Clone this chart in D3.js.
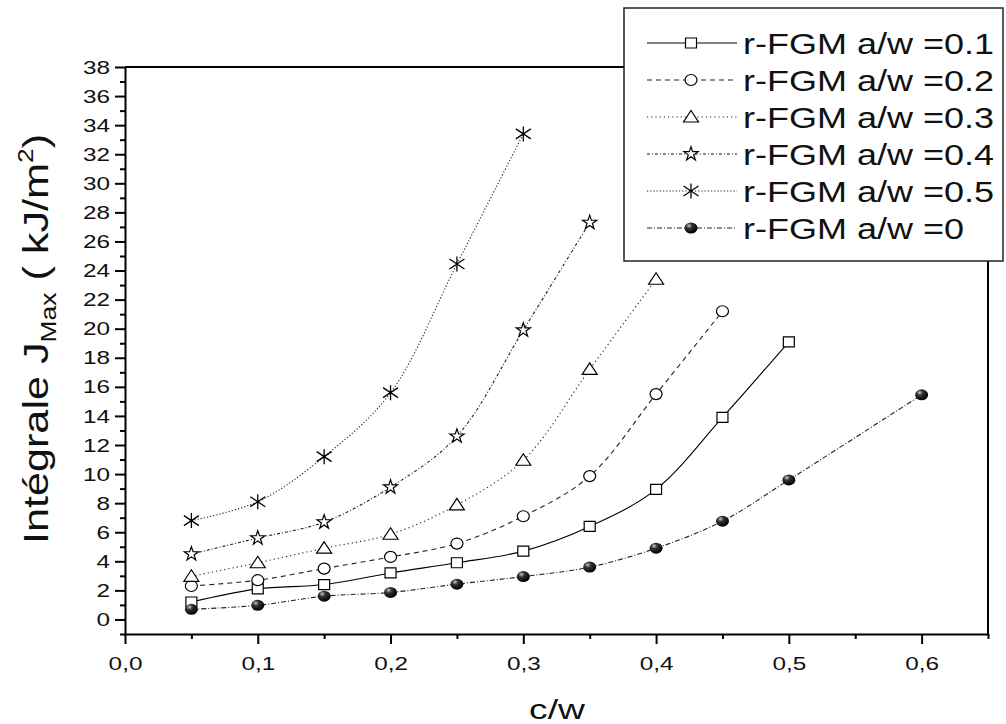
<!DOCTYPE html>
<html>
<head>
<meta charset="utf-8">
<script src="https://cdn.jsdelivr.net/npm/d3@7"></script>
<style>
  body { margin: 0; background: #fff; }
  text { font-family: "Liberation Sans", Arial, sans-serif; fill: #111; }
</style>
</head>
<body>
<div id="chart"></div>
<script>
// c/w values (a/w=0 goes up to 0.6, skipping 0.55)
var cw = [0.05, 0.1, 0.15, 0.2, 0.25, 0.3, 0.35, 0.4, 0.45, 0.5, 0.6];

// J max (kJ/m2) per series
var jAw01 = [1.2, 2.1, 2.4, 3.2, 3.9, 4.7, 6.4, 8.95, 13.9, 19.1];
var jAw02 = [2.3, 2.7, 3.5, 4.3, 5.22, 7.1, 9.86, 15.5, 21.2];
var jAw03 = [2.97, 3.9, 4.9, 5.86, 7.88, 10.95, 17.2, 23.4];
var jAw04 = [4.5, 5.6, 6.7, 9.1, 12.6, 19.9, 27.3];
var jAw05 = [6.8, 8.1, 11.2, 15.6, 24.45, 33.4];
var jAw0  = [0.7, 0.97, 1.6, 1.86, 2.43, 2.95, 3.6, 4.9, 6.76, 9.6, 15.45];

var seriesNames = ["r-FGM a/w =0.1", "r-FGM a/w =0.2", "r-FGM a/w =0.3",
                   "r-FGM a/w =0.4", "r-FGM a/w =0.5", "r-FGM a/w =0"];
var seriesVals = [jAw01, jAw02, jAw03, jAw04, jAw05, jAw0];

var xMajor = [0, 0.1, 0.2, 0.3, 0.4, 0.5, 0.6];
var xMinor = [0.05, 0.15, 0.25, 0.35, 0.45, 0.55, 0.65];
var yMajor = d3.range(0, 39, 2);
var yMinor = d3.range(-1, 38, 2);

var W = 1006, H = 724;
var TX = 1.28;   // the original fonts are drawn wider than Arial

var svg = d3.select("#chart").append("svg")
    .attr("width", W)
    .attr("height", H);

var defs = svg.append("defs");
var grad = defs.append("radialGradient")
    .attr("id", "ball")
    .attr("cx", "35%").attr("cy", "30%").attr("r", "70%");
grad.append("stop").attr("offset", "0%").attr("stop-color", "#c8c8c8");
grad.append("stop").attr("offset", "35%").attr("stop-color", "#333");
grad.append("stop").attr("offset", "100%").attr("stop-color", "#000");

var x = d3.scaleLinear().domain([0, 0.65]).range([125, 988]);
var y = d3.scaleLinear().domain([-1, 38]).range([634, 67]);

// frame (top + right)
svg.append("path")
    .attr("d", "M" + x(0) + "," + y(38) + "H" + x(0.65) + "V" + y(-1))
    .attr("fill", "none")
    .attr("stroke", "#000")
    .attr("stroke-width", 2);

// x axis
var fmt = function(d){ return d3.format(".1f")(d).replace(".", ","); };
var gx = svg.append("g")
    .attr("transform", "translate(0," + y(-1) + ")")
    .call(d3.axisBottom(x).tickValues(xMajor).tickSize(10).tickSizeOuter(0).tickPadding(13).tickFormat(fmt));
gx.select(".domain").attr("stroke-width", 2);
gx.selectAll(".tick line").attr("stroke-width", 2);
gx.selectAll(".tick text")
    .attr("font-size", 19)
    .attr("font-family", "Liberation Sans, Arial, sans-serif")
    .attr("transform", "scale(" + TX + ",1)");

var gxm = svg.append("g")
    .attr("transform", "translate(0," + y(-1) + ")")
    .call(d3.axisBottom(x).tickValues(xMinor).tickSize(5).tickFormat(""));
gxm.select(".domain").remove();
gxm.selectAll(".tick line").attr("stroke-width", 2);

// y axis
var gy = svg.append("g")
    .attr("transform", "translate(" + x(0) + ",0)")
    .call(d3.axisLeft(y).tickValues(yMajor).tickSize(10).tickSizeOuter(0).tickFormat(d3.format("d")));
gy.select(".domain").attr("stroke-width", 2);
gy.selectAll(".tick line").attr("stroke-width", 2);
gy.selectAll(".tick text")
    .attr("font-size", 19)
    .attr("font-family", "Liberation Sans, Arial, sans-serif")
    .attr("x", -15 / TX)
    .attr("transform", "scale(" + TX + ",1)");

var gym = svg.append("g")
    .attr("transform", "translate(" + x(0) + ",0)")
    .call(d3.axisLeft(y).tickValues(yMinor).tickSize(5).tickFormat(""));
gym.select(".domain").remove();
gym.selectAll(".tick line").attr("stroke-width", 2);

// axis titles
svg.append("text")
    .attr("transform", "translate(557,719) scale(1.33,1)")
    .attr("text-anchor", "middle")
    .attr("font-size", 28)
    .text("c/w");

var ylab = svg.append("text")
    .attr("transform", "translate(48,339) rotate(-90) scale(1.2,1)")
    .attr("text-anchor", "middle")
    .attr("font-size", 36);
ylab.append("tspan").text("Intégrale J");
ylab.append("tspan").attr("font-size", 22).attr("dy", 8).text("Max");
ylab.append("tspan").attr("dy", -8).text("  ( kJ/m");
ylab.append("tspan").attr("font-size", 22).attr("dy", -15).text("2");
ylab.append("tspan").attr("dy", 15).text(")");

// markers
function markerPath(k){
    if (k == 0) return "M-5.5,-5H5.5V5H-5.5Z";
    if (k == 1) return "M-6,0A6,5.5 0 1,0 6,0A6,5.5 0 1,0 -6,0Z";
    if (k == 2) return "M0,-6.5L7.5,5H-7.5Z";
    if (k == 3) return d3.symbol().type(d3.symbolStar).size(62)();
    if (k == 4) return "M0,-7.5V7.5M-7.5,-5L7.5,5M-7.5,5L7.5,-5";
    return "M-6.5,0A6.5,5.5 0 1,0 6.5,0A6.5,5.5 0 1,0 -6.5,0Z";
}
function drawMarker(g, k){
    g.append("path")
        .attr("d", markerPath(k))
        .attr("fill", k == 5 ? "url(#ball)" : (k == 4 ? "none" : "#fff"))
        .attr("stroke", k == 5 ? "none" : "#000")
        .attr("stroke-width", k == 4 ? 1.3 : 1.2);
}

var dashes = [null, "5,4", "1.2,3", "3,2,1,2", "1.2,2", "5,2,1,2"];

var line = d3.line()
    .x(function(d){ return x(d[0]); })
    .y(function(d){ return y(d[1]); })
    .curve(d3.curveCatmullRom.alpha(0.5));

for (var k = 0; k < seriesVals.length; k++){
    var pts = seriesVals[k].map(function(v, i){ return [cw[i], v]; });
    svg.append("path")
        .datum(pts)
        .attr("d", line)
        .attr("fill", "none")
        .attr("stroke", k == 0 ? "#000" : "#222")
        .attr("stroke-width", 1.1)
        .attr("stroke-dasharray", dashes[k]);
    pts.forEach(function(p){
        var g = svg.append("g")
            .attr("transform", "translate(" + x(p[0]) + "," + y(p[1]) + ")");
        drawMarker(g, k);
    });
}

// legend
var lg = svg.append("g");
lg.append("rect")
    .attr("x", 624).attr("y", 8)
    .attr("width", 379).attr("height", 253)
    .attr("fill", "#fff")
    .attr("stroke", "#222")
    .attr("stroke-width", 1.5);

for (var i = 0; i < seriesNames.length; i++){
    var cy = 43 + i * 37;
    lg.append("line")
        .attr("x1", 647).attr("x2", 737)
        .attr("y1", cy).attr("y2", cy)
        .attr("stroke", i == 0 ? "#000" : "#222")
        .attr("stroke-width", 1.1)
        .attr("stroke-dasharray", dashes[i]);
    var mg = lg.append("g").attr("transform", "translate(691," + cy + ")");
    drawMarker(mg, i);
    lg.append("text")
        .attr("transform", "translate(743," + (cy + 11) + ") scale(1.2,1)")
        .attr("font-size", 30)
        .text(seriesNames[i]);
}
</script>
</body>
</html>
